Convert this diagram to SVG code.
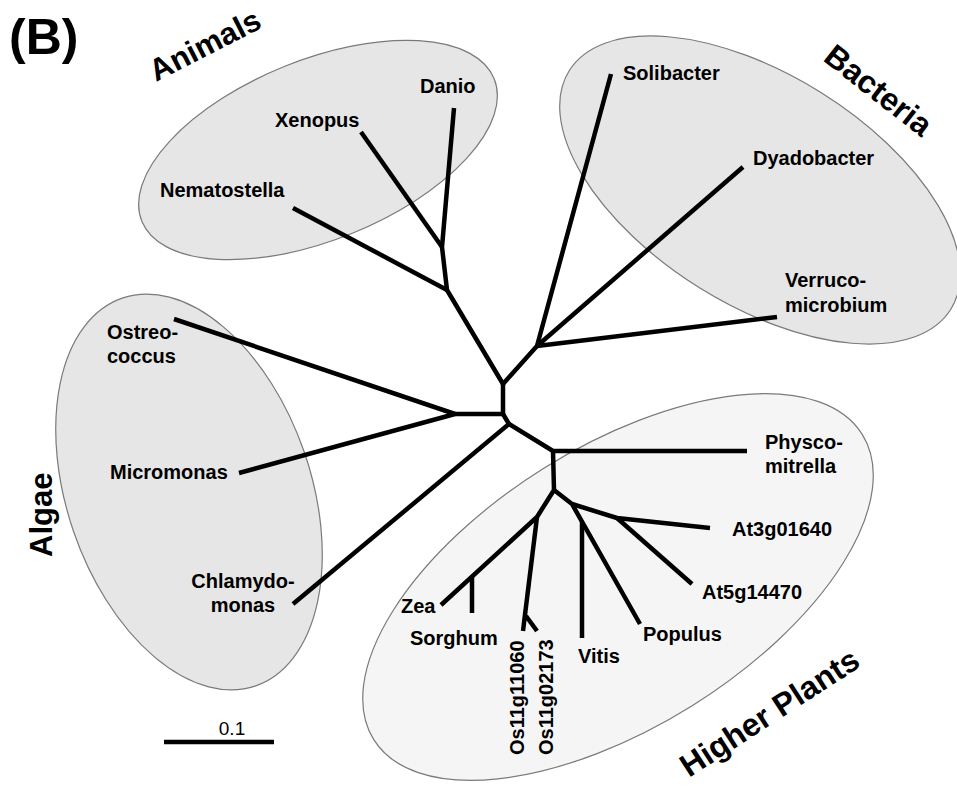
<svg xmlns="http://www.w3.org/2000/svg" width="957" height="787" viewBox="0 0 957 787">
<style>
text{font-family:"Liberation Sans",Arial,Helvetica,sans-serif;fill:#000}
.leaf{font-weight:bold;font-size:20px}
.grp{font-weight:bold;font-size:31px}
.clade{stroke:#7a7a7a;stroke-width:1.2}
.dark{fill:#e6e6e6}
.light{fill:#f5f5f5}
.br{stroke:#000;stroke-width:4.5;fill:none;stroke-linecap:butt;stroke-linejoin:round}
</style>
<rect width="957" height="787" fill="#fff"/>
<g id="clades">
<ellipse id="animals-ellipse" class="clade dark" cx="318" cy="150" rx="190" ry="90" transform="rotate(-22 318 150)"/>
<ellipse id="bacteria-ellipse" class="clade dark" cx="760" cy="190" rx="225" ry="115" transform="rotate(32 760 190)"/>
<ellipse id="algae-ellipse" class="clade dark" cx="189" cy="492" rx="122" ry="205" transform="rotate(-19 189 492)"/>
<ellipse id="plants-ellipse" class="clade light" cx="618" cy="587" rx="288" ry="140" transform="rotate(-32 618 587)"/>
</g>
<text x="9" y="54" style="font-weight:bold;font-size:50px">(B)</text>
<g id="group-labels">
<text class="grp" transform="translate(156 82) rotate(-27)">Animals</text>
<text class="grp" transform="translate(822 60) rotate(38)" style="font-size:32px">Bacteria</text>
<text class="grp" transform="translate(52 557) rotate(-90)">Algae</text>
<text class="grp" transform="translate(689 778) rotate(-33)" style="font-size:32px">Higher Plants</text>
</g>
<g id="connectors" class="br">
<path d="M454 108 L442 247 L447 290 L503 384"/>
<path d="M361 132 L442 247"/>
<path d="M293 208 L447 290"/>
<path d="M611 74 L537 346 L503 384"/>
<path d="M743 167 L537 346"/>
<path d="M777 317 L537 346"/>
<path d="M503 384 L503 414 L455 414"/>
<path d="M503 414 L509 424"/>
<path d="M174 319 L455 414"/>
<path d="M239 473 L455 414"/>
<path d="M293 604 L509 424"/>
<path d="M509 424 L553 451 L747 451"/>
<path d="M553 451 L554 490 L537 517 L441 605"/>
<path d="M472 577 L472 613"/>
<path d="M537 517 L523 631"/>
<path d="M526 616 L537 631"/>
<path d="M554 490 L572 504 L640 624"/>
<path d="M572 504 L617 518 L710 528"/>
<path d="M617 518 L692 584"/>
<path d="M582 522 L582 638"/>
</g>
<g id="Danio"><text class="leaf" x="420" y="93">Danio</text></g>
<g id="Xenopus"><text class="leaf" x="275" y="127">Xenopus</text></g>
<g id="Nematostella"><text class="leaf" x="160" y="197">Nematostella</text></g>
<g id="Solibacter"><text class="leaf" x="623" y="80">Solibacter</text></g>
<g id="Dyadobacter"><text class="leaf" x="753" y="165">Dyadobacter</text></g>
<g id="Verrucomicrobium"><text class="leaf" x="785" y="287">Verruco-</text><text class="leaf" x="785" y="312">microbium</text></g>
<g id="Ostreococcus"><text class="leaf" x="107" y="339">Ostreo-</text><text class="leaf" x="107" y="363">coccus</text></g>
<g id="Micromonas"><text class="leaf" x="110" y="479">Micromonas</text></g>
<g id="Chlamydomonas"><text class="leaf" x="243" y="588" text-anchor="middle">Chlamydo-</text><text class="leaf" x="243" y="612" text-anchor="middle">monas</text></g>
<g id="Physcomitrella"><text class="leaf" x="765" y="449">Physco-</text><text class="leaf" x="765" y="473">mitrella</text></g>
<g id="At3g01640"><text class="leaf" x="732" y="536">At3g01640</text></g>
<g id="At5g14470"><text class="leaf" x="702" y="599">At5g14470</text></g>
<g id="Populus"><text class="leaf" x="643" y="641">Populus</text></g>
<g id="Vitis"><text class="leaf" x="578" y="663">Vitis</text></g>
<g id="Zea"><text class="leaf" x="401" y="613">Zea</text></g>
<g id="Sorghum"><text class="leaf" x="410" y="645">Sorghum</text></g>
<g id="Os11g11060"><text class="leaf" transform="translate(524 755) rotate(-90)">Os11g11060</text></g>
<g id="Os11g02173"><text class="leaf" transform="translate(553 755) rotate(-90)">Os11g02173</text></g>
<g id="scale-bar">
<line x1="164" y1="742" x2="274" y2="742" stroke="#000" stroke-width="4.5"/>
<text x="232" y="735" text-anchor="middle" style="font-size:19px">0.1</text>
</g>
</svg>
